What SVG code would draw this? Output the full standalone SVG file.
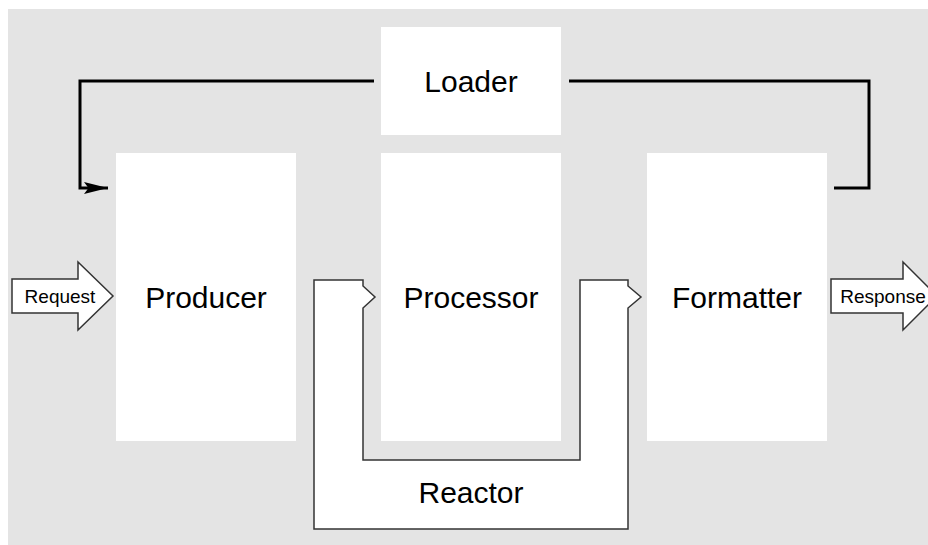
<svg xmlns="http://www.w3.org/2000/svg" width="928" height="545" viewBox="0 0 928 545">
<defs>
<style>
.box{fill:#ffffff;stroke:none}
.lbl{font-family:"Liberation Sans",Arial,sans-serif;font-size:30px;fill:#000;text-anchor:middle;dominant-baseline:central}
.sm{font-family:"Liberation Sans",Arial,sans-serif;font-size:19px;fill:#000;text-anchor:middle;dominant-baseline:central}
.conn{fill:none;stroke:#000;stroke-width:3}
.shape{fill:#ffffff;stroke:#333;stroke-width:1.5}
</style>
<marker id="ah" markerWidth="8" markerHeight="4" refX="8" refY="2" orient="auto" markerUnits="strokeWidth">
<path d="M0,0 L8,2 L0,4 L1.5,2 Z" fill="#000"/>
</marker>
</defs>
<rect x="0" y="0" width="928" height="545" fill="#ffffff"/>
<rect x="8" y="9" width="920" height="536" fill="#e4e4e4"/>
<g id="connectors">
<path class="conn" d="M374,81 H80 V188 H108" marker-end="url(#ah)"/>
<path class="conn" d="M569,81 H869 V188 H834"/>
</g>
<g id="reactor">
<path class="shape" d="M314,280 H363 V286 L375,297 L363,308 V460 H580 V280 H628 V286 L641,297 L628,308 V529 H314 Z"/>
<text class="lbl" x="471" y="492">Reactor</text>
</g>
<g id="loader">
<rect class="box" x="381" y="27" width="180" height="108"/>
<text class="lbl" x="471" y="81">Loader</text>
</g>
<g id="producer">
<rect class="box" x="116" y="153" width="180" height="288"/>
<text class="lbl" x="206" y="297">Producer</text>
</g>
<g id="processor">
<rect class="box" x="381" y="153" width="180" height="288"/>
<text class="lbl" x="471" y="297">Processor</text>
</g>
<g id="formatter">
<rect class="box" x="647" y="153" width="180" height="288"/>
<text class="lbl" x="737" y="297">Formatter</text>
</g>
<g id="request">
<path class="shape" d="M12,279 H78 V262 L113,296 L78,330 V313 H12 Z"/>
<text class="sm" x="60" y="296">Request</text>
</g>
<g id="response">
<path class="shape" d="M831,279 H903 V262 L937,296 L903,330 V313 H831 Z"/>
<text class="sm" x="883" y="296">Response</text>
</g>
</svg>
